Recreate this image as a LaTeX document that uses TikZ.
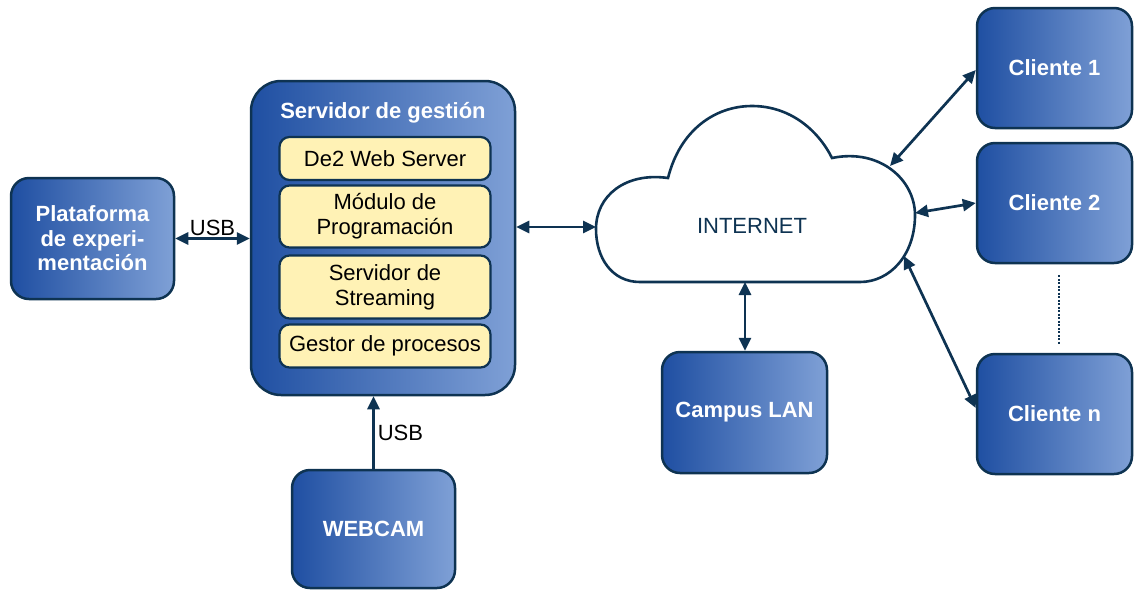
\documentclass[tikz,border=0pt]{standalone}
\usepackage{fontspec}
\setmainfont{Liberation Sans}
\usetikzlibrary{arrows.meta}
\definecolor{navy}{HTML}{0E3352}
\definecolor{boxL}{HTML}{1F4FA2}
\definecolor{boxR}{HTML}{7FA0D6}
\definecolor{pale}{HTML}{FFF2B5}
\tikzset{
  txt/.style={font=\fontsize{22}{25}\selectfont},
  bluebox/.style={draw=navy, line width=2.5pt, rounded corners=18pt,
    left color=boxL, right color=boxR, text=white, align=center,
    inner sep=0pt, font=\fontsize{22}{24.5}\selectfont\bfseries},
  module/.style={draw=navy, line width=2.2pt, rounded corners=10pt,
    fill=pale, text=black, align=center, inner sep=0pt,
    minimum width=211pt, font=\fontsize{22}{25}\selectfont},
  link/.style={draw=navy, line width=2.7pt},
  both/.style={link, {Triangle[length=13pt,width=12pt]}-{Triangle[length=13pt,width=12pt]}},
  one/.style={link, -{Triangle[length=13pt,width=12pt]}},
}
\begin{document}
\begin{tikzpicture}[x=1pt, y=-1pt]
\useasboundingbox (0,0) rectangle (1134,590);

% management server and its modules
\node[bluebox, rounded corners=30pt, minimum width=264pt, minimum height=314pt] (serv) at (383,238) {};
\node[text=white, font=\fontsize{22}{25}\selectfont\bfseries] (servT) at (383,112.5) {Servidor de gestión};
\node[module, minimum height=43pt] (web) at (385,158.5) {De2 Web Server};
\node[module, minimum height=62pt] (prog) at (385,216.5) {Módulo de\\Programación};
\node[module, minimum height=63pt] (strm) at (385,287) {Servidor de\\Streaming};
\node[module, minimum height=43pt] (gest) at (385,346) {Gestor de procesos};

% peripheral blocks
\node[bluebox, minimum width=163pt, minimum height=121pt] (plat) at (92.5,238.5) {Plataforma\\de experi-\\mentación};
\node[bluebox, minimum width=163pt, minimum height=118pt] (cam) at (373.5,529) {WEBCAM};
\node[bluebox, minimum width=165pt, minimum height=121pt] (lan) at (744.5,412.5) {Campus LAN};
\node[bluebox, minimum width=155pt, minimum height=120pt] (c1) at (1054.5,68) {Cliente 1};
\node[bluebox, minimum width=155pt, minimum height=120pt] (c2) at (1054.5,203) {Cliente 2};
\node[bluebox, minimum width=155pt, minimum height=120pt] (cn) at (1054.5,414) {Cliente n};

% internet cloud
\draw[navy, line width=2.6pt, fill=white]
  (640,282) .. controls (612,282) and (596,258) .. (596,229)
  .. controls (596,196) and (625,172) .. (668,178)
  .. controls (680,130) and (715,106) .. (752,106)
  .. controls (790,106) and (818,130) .. (832,158)
  .. controls (880,148) and (915,180) .. (915,215)
  .. controls (915,255) and (890,282) .. (860,282)
  -- cycle;
\node[txt, text=navy] (inet) at (752,226) {INTERNET};
\coordinate (cloudL) at (596,227);
\coordinate (cloudB) at (745,282);
\coordinate (cloudR1) at (890,166);
\coordinate (cloudR2) at (915,213);
\coordinate (cloudR3) at (904,256);

% connections
\draw[both] (plat.east) -- node[txt, above, inner sep=1pt] {USB} (plat.east -| serv.west);
\draw[one] (cam.north) -- node[txt, right, inner sep=3pt] {USB} (cam.north |- serv.south);
\draw[both] (serv.east |- cloudL) -- (cloudL);
\draw[both] (cloudB) -- (cloudB |- lan.north);
\draw[both] (cloudR1) -- ([yshift=-2pt]c1.west);
\draw[both] (cloudR2) -- (c2.west);
\draw[both] (cloudR3) -- ([yshift=6pt]cn.west);

% ellipsis between clients
\coordinate (dotA) at (1059,275);
\coordinate (dotB) at (1059,345);
\draw[navy, line width=2.2pt, dash pattern=on 2pt off 1.5pt] (dotA) -- (dotB);
\end{tikzpicture}
\end{document}
